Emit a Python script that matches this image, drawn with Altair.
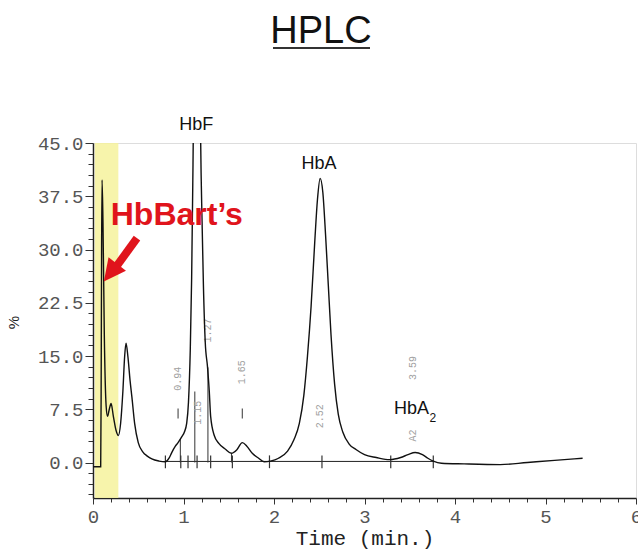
import altair as alt
import pandas as pd

# ---- chromatogram trace (time in min, % signal) ----
trace_t = [0.00, 0.085, 0.09, 0.095, 0.10, 0.11, 0.125, 0.145, 0.16, 0.18, 0.20, 0.225,
           0.255, 0.28, 0.305, 0.33, 0.35, 0.365, 0.385, 0.41, 0.43, 0.46, 0.50, 0.55,
           0.60, 0.65, 0.73, 0.80, 0.84, 0.87, 0.91, 0.94, 0.98, 1.01, 1.035, 1.055,
           1.075, 1.09, 1.105, 1.12, 1.18, 1.19, 1.205, 1.22, 1.24, 1.265, 1.285, 1.30,
           1.34, 1.39, 1.46, 1.53, 1.59, 1.65, 1.70, 1.76, 1.83, 1.89, 1.96, 2.05,
           2.15, 2.22, 2.28, 2.33, 2.37, 2.41, 2.45, 2.48, 2.51, 2.54, 2.57, 2.60,
           2.63, 2.67, 2.71, 2.76, 2.83, 2.91, 3.00, 3.13, 3.28, 3.40, 3.48, 3.56,
           3.64, 3.70, 3.76, 3.85, 4.10, 4.50, 4.80, 5.10, 5.41]
trace_pct = [-0.6, -0.6, 10.0, 30.0, 39.8, 34.0, 18.0, 8.0, 6.5, 7.5, 8.3, 6.5,
             4.5, 3.8, 5.5, 10.0, 15.0, 16.8, 15.0, 11.5, 9.2, 5.5, 2.8, 1.5,
             0.9, 0.5, 0.2, 0.1, 0.6, 1.4, 2.3, 2.8, 3.6, 4.3, 5.5, 8.5,
             16.0, 26.0, 42.0, 60.0, 60.0, 45.0, 34.0, 25.0, 17.0, 13.5, 10.0, 6.5,
             3.8, 2.7, 1.9, 1.3, 1.8, 2.8, 2.3, 1.3, 0.6, 0.1, 0.2, 0.6,
             1.6, 3.2, 5.5, 9.5, 15.0, 22.0, 31.0, 37.0, 40.0, 38.0, 32.0, 25.0,
             18.0, 11.0, 6.8, 4.3, 2.6, 1.8, 1.1, 0.7, 0.4, 0.7, 1.1, 1.4,
             1.1, 0.6, 0.2, -0.1, -0.2, -0.3, 0.0, 0.3, 0.6]

# integration baseline, drop lines and baseline tick marks
base_t = [0.80]
base_t2 = [3.76]
base_v = [0.15]
drop_t = [0.965, 1.125, 1.27, 1.53]
drop_top = [3.3, 10.0, 13.4, 1.3]
mark_t = [0.80, 0.97, 1.05, 1.15, 1.30, 1.54, 1.95, 2.53, 3.29, 3.76]
apex_t = [0.94, 1.65]

# retention-time labels printed by the instrument
rt_labels = ["0.94", "1.15", "1.27", "1.65", "2.52", "3.59", "A2"]
rt_t = [0.94, 1.16, 1.27, 1.65, 2.51, 3.54, 3.54]
rt_v = [11.8, 7.0, 18.6, 12.7, 6.5, 13.3, 3.8]

# peak names
peak_names = ["HbF", "HbA", "HbA"]
peak_t = [1.141, 2.497, 3.52]
peak_v = [47.6, 42.0, 7.5]
sub_label = ["2"]
sub_t = [3.755]
sub_v = [6.3]

# highlighted HbBart's region and annotation
band_t = [0.02]
band_t2 = [0.28]
bart_label = ["HbBart\u2019s"]
bart_t = [0.196]
bart_v = [33.4]
arrow_t = [0.486]
arrow_v = [31.6]
arrow_t2 = [0.235]
arrow_v2 = [27.2]
tip_t = [0.12]
tip_v = [25.5]

x_ticks = [0, 0.2, 0.4, 0.6, 0.8, 1, 1.2, 1.4, 1.6, 1.8, 2, 2.2, 2.4, 2.6, 2.8, 3,
           3.2, 3.4, 3.6, 3.8, 4, 4.2, 4.4, 4.6, 4.8, 5, 5.2, 5.4, 5.6, 5.8, 6]
y_ticks = [-4.5, -3, -1.5, 0, 1.5, 3, 4.5, 6, 7.5, 9, 10.5, 12, 13.5, 15, 16.5, 18,
           19.5, 21, 22.5, 24, 25.5, 27, 28.5, 30, 31.5, 33, 34.5, 36, 37.5, 39,
           40.5, 42, 43.5, 45]

W, H = 543, 355
MONO = "Liberation Mono"
SANS = "Liberation Sans"

xscale = alt.Scale(domain=[0, 6], nice=False, zero=False)
yscale = alt.Scale(domain=[-5, 45], nice=False, zero=False)

xaxis = alt.Axis(values=x_ticks, title="Time (min.)",
                 labelExpr="datum.value % 1 === 0 ? format(datum.value, 'd') : ''",
                 labelFont=MONO, labelFontSize=19, labelColor="#555", labelPadding=3,
                 labelFlush=False,
                 tickSize={"condition": {"test": "datum.value % 1 === 0", "value": 6}, "value": 4},
                 tickColor="#333", domainColor="#222", domainWidth=1.5,
                 titleFont=MONO, titleFontSize=21, titleFontWeight="normal",
                 titleColor="#222", titlePadding=1, grid=False)
yaxis = alt.Axis(values=y_ticks, title="%",
                 labelExpr="datum.value % 7.5 === 0 ? format(datum.value, '.1f') : ''",
                 labelFont=MONO, labelFontSize=19, labelColor="#555", labelPadding=2,
                 labelFlush=False,
                 tickSize={"condition": {"test": "datum.value % 7.5 === 0", "value": 8}, "value": 5},
                 tickColor="#333", domainColor="#222", domainWidth=1.5,
                 titleFont=SANS, titleFontSize=15, titleFontWeight="normal",
                 titleColor="#222", titleX=-72, titleY=179, grid=False)


def X(f):
    return alt.X(f, type="quantitative", scale=xscale, axis=xaxis)


def Y(f):
    return alt.Y(f, type="quantitative", scale=yscale, axis=yaxis)


band = alt.Chart(pd.DataFrame({"t": band_t, "t2": band_t2})).mark_rect(
    color="#f6f29c", opacity=0.85).encode(
    x=X("t"), x2="t2", y=alt.value(0), y2=alt.value(H))

trace = alt.Chart(pd.DataFrame({"t": trace_t, "v": trace_pct})).mark_line(
    color="#111", strokeWidth=1.4, interpolate="monotone", clip=True).encode(
    x=X("t"), y=Y("v"))

baseline = alt.Chart(pd.DataFrame({"t": base_t, "t2": base_t2, "v": base_v})).mark_rule(
    color="#222", strokeWidth=1).encode(x=X("t"), x2="t2", y=Y("v"))

drops = alt.Chart(pd.DataFrame({"t": drop_t, "v": [0.0] * len(drop_t), "v2": drop_top})).mark_rule(
    color="#333", strokeWidth=1).encode(x=X("t"), y=Y("v"), y2="v2")

marks = alt.Chart(pd.DataFrame({"t": mark_t, "v": [-0.8] * len(mark_t), "v2": [1.0] * len(mark_t)})).mark_rule(
    color="#333", strokeWidth=1.2).encode(x=X("t"), y=Y("v"), y2="v2")

apex = alt.Chart(pd.DataFrame({"t": apex_t, "v": [6.2] * len(apex_t), "v2": [7.6] * len(apex_t)})).mark_rule(
    color="#555", strokeWidth=1.2).encode(x=X("t"), y=Y("v"), y2="v2")

rt = alt.Chart(pd.DataFrame({"t": rt_t, "v": rt_v, "s": rt_labels})).mark_text(
    font=MONO, fontSize=10, color="#a0a0a0", angle=270, align="center", baseline="middle").encode(
    x=X("t"), y=Y("v"), text="s:N")

peaks = alt.Chart(pd.DataFrame({"t": peak_t, "v": peak_v, "s": peak_names})).mark_text(
    font=SANS, fontSize=18, color="#111", align="center", baseline="middle").encode(
    x=X("t"), y=Y("v"), text="s:N")

sub = alt.Chart(pd.DataFrame({"t": sub_t, "v": sub_v, "s": sub_label})).mark_text(
    font=SANS, fontSize=12, color="#111", align="center", baseline="middle").encode(
    x=X("t"), y=Y("v"), text="s:N")

bart = alt.Chart(pd.DataFrame({"t": bart_t, "v": bart_v, "s": bart_label})).mark_text(
    font=SANS, fontSize=32, fontWeight="bold", color="#e0141c", align="left",
    baseline="alphabetic").encode(x=X("t"), y=Y("v"), text="s:N")

shaft = alt.Chart(pd.DataFrame({"t": arrow_t, "v": arrow_v, "t2": arrow_t2, "v2": arrow_v2})).mark_rule(
    color="#e0141c", strokeWidth=8, strokeCap="butt").encode(
    x=X("t"), y=Y("v"), x2="t2", y2="v2")

head = alt.Chart(pd.DataFrame({"t": tip_t, "v": tip_v})).mark_point(
    shape="M0,0L0.8,1.6L-0.8,1.6Z", filled=True, color="#e0141c", opacity=1,
    size=756, angle=217.5).encode(x=X("t"), y=Y("v"))

title = alt.Chart(pd.DataFrame({"s": ["HPLC"]})).mark_text(
    font=SANS, fontSize=38, color="#111", align="center", baseline="alphabetic").encode(
    x=alt.value(228), y=alt.value(-100), text="s:N")

underline = alt.Chart(pd.DataFrame({"s": ["u"]})).mark_rule(
    color="#333", strokeWidth=2).encode(x=alt.value(180), x2=alt.value(277), y=alt.value(-95))

chart = alt.layer(band, baseline, drops, marks, apex, rt, trace, peaks, sub, bart,
                  shaft, head, title, underline).properties(
    width=W, height=H,
    autosize=alt.AutoSizeParams(type="none"),
    padding={"left": 93, "top": 143, "right": 2, "bottom": 56},
).configure_view(stroke="#111", strokeWidth=1.5).configure(background="white")

chart.save("out.html", embed_options={"renderer": "svg", "actions": False})
